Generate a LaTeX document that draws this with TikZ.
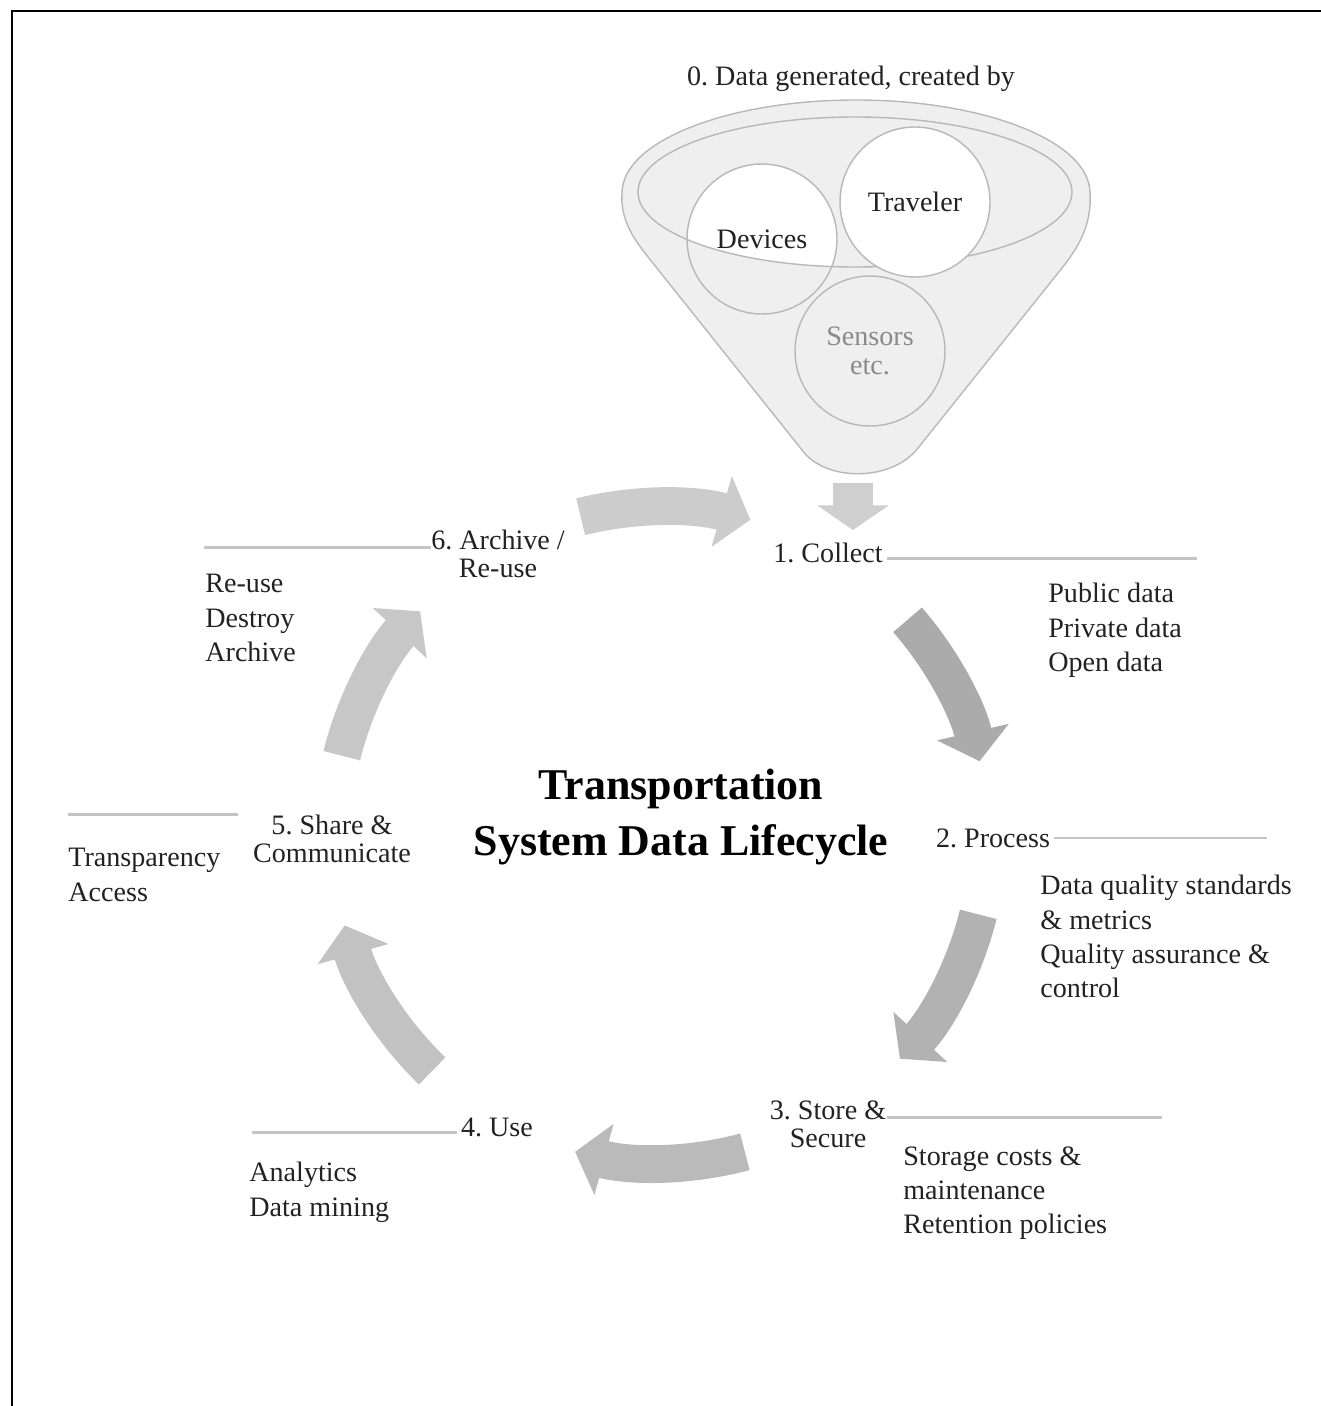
\documentclass[tikz,border=0pt]{standalone}
\usepackage{fontspec}
\setmainfont{Liberation Serif}
\usepackage{tikz}
\usetikzlibrary{positioning, arrows.meta}
\definecolor{funnelgrey}{HTML}{EFEFEF}
\definecolor{rimgrey}{HTML}{B8B8B8}
\definecolor{rulegrey}{HTML}{C4C4C4}
\definecolor{inkgrey}{HTML}{222222}
\definecolor{sensgrey}{HTML}{8A8A8A}
\frenchspacing

\begin{document}
\begin{tikzpicture}[x=0.02cm, y=0.02cm,
  every node/.style={inner sep=0pt, text=inkgrey, font=\fontsize{16}{19}\selectfont},
  stepname/.style={align=center, font=\fontsize{16}{16}\selectfont},
  notes/.style={align=left, anchor=north west, font=\fontsize{16}{19.5}\selectfont},
  bubble/.style={circle, draw=rimgrey, line width=0.8pt, minimum size=3cm},
  rule/.style={rulegrey, line width=1.5pt},
  loop/.style={line width=21.5pt, -{Triangle[length=17pt, width=41pt]}},
  rim/.style={rimgrey, line width=0.8pt}]

\useasboundingbox (0,0) rectangle (1321,-1406);
\draw[line width=1.7pt] (12,-1406) -- (12,-11) -- (1321,-11);

% funnel
\node at (851,-79) (top) {0. Data generated, created by};
\draw[rim, fill=funnelgrey] (622,-193) arc[start angle=180, end angle=0, x radius=234, y radius=93]
  .. controls (1092,-225) and (1078,-248) .. (1062,-268) -- (918,-448)
  .. controls (892,-482) and (825,-482) .. (802,-450) -- (652,-262)
  .. controls (636,-242) and (620,-222) .. (622,-193) -- cycle;
\begin{scope}
\clip (855,-192) ellipse [x radius=217, y radius=75];
\fill[white] (762,-239) circle [radius=75];
\end{scope}
\draw[rim] (855,-192) ellipse [x radius=217, y radius=75];
\node[bubble, fill=white] at (915,-202) (trav) {Traveler};
\node[bubble] at (762,-239) (dev) {Devices};
\node[bubble, text=sensgrey, align=center, font=\fontsize{16}{16.4}\selectfont] at (870,-351) (sens) {Sensors\\etc.};

% title
\node[font=\fontsize{25}{31.7}\selectfont\bfseries, text=black, align=center] at (681,-817) (title) {Transportation\\System Data Lifecycle};

% steps
\node[anchor=base] at (828,-562) (s1) {1. Collect};
\node[anchor=base] at (993,-847) (s2) {2. Process};
\node[stepname] at (828,-1124) (s3) {3. Store \&\\Secure};
\node[anchor=base] at (497,-1136) (s4) {4. Use};
\node[stepname] at (332,-839) (s5) {5. Share \&\\Communicate};
\node[stepname] at (498,-554) (s6) {6. Archive /\\Re-use};

% notes
\node[notes] at (1048,-583) (n1) {Public data\\Private data\\Open data};
\node[notes] at (1040,-875) (n2) {Data quality standards\\\& metrics\\Quality assurance \&\\control};
\node[notes] at (903,-1146) (n3) {Storage costs \&\\maintenance\\Retention policies};
\node[notes] at (249,-1162) (n4) {Analytics\\Data mining};
\node[notes] at (68,-848) (n5) {Transparency\\Access};
\node[notes] at (205,-574) (n6) {Re-use\\Destroy\\Archive};

% rules
\draw[rule] ([xshift=2pt, yshift=2pt]s1.base east) -- ++(310,0);
\draw[rule] ([xshift=2pt]s2.east) -- ++(213,0);
\draw[rule] ([yshift=-10pt]s3.north east) -- ++(275,0);
\draw[rule] ([xshift=-2pt, yshift=2pt]s4.base west) -- ++(-205,0);
\draw[rule] ([yshift=19pt]n5.north west) -- ++(170,0);
\draw[rule] ([yshift=-10pt]s6.north west) -- ++(-227,0);

% arrows
\coordinate (spout) at (853,-483);
\draw[line width=22.7pt, draw=black!19, -{Triangle[length=14pt, width=40pt]}] (spout) -- ++(0,-47);
\coordinate (hub) at (660,-835);
\draw[loop, draw=black!20] ([shift={(104:328)}]hub) arc[start angle=104, end angle=74, radius=328];
\draw[loop, draw=black!33] ([shift={(41:328)}]hub) arc[start angle=41, end angle=13, radius=328];
\draw[loop, draw=black!30] ([shift={(-14:328)}]hub) arc[start angle=-14, end angle=-43, radius=328];
\draw[loop, draw=black!27] ([shift={(-75:328)}]hub) arc[start angle=-75, end angle=-105, radius=328];
\draw[loop, draw=black!24] ([shift={(-134:328)}]hub) arc[start angle=-134, end angle=-164, radius=328];
\draw[loop, draw=black!22] ([shift={(166:328)}]hub) arc[start angle=166, end angle=137, radius=328];
\end{tikzpicture}
\end{document}
